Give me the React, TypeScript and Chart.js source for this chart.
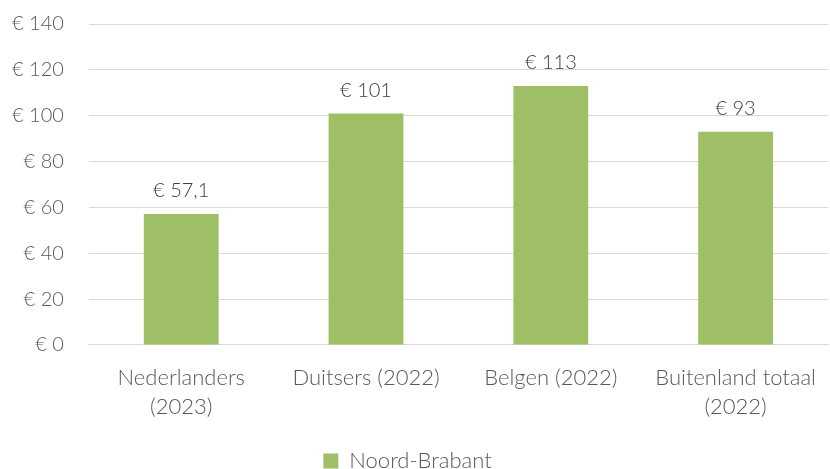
import React, { useEffect, useRef } from "react";
import { Chart, registerables } from "chart.js";

Chart.register(...registerables);

const categories: (string | string[])[] = [
  ["Nederlanders", "(2023)"],
  "Duitsers (2022)",
  "Belgen (2022)",
  ["Buitenland totaal", "(2022)"],
];
const values = [57.1, 101, 113, 93];
const valueLabels = ["€ 57,1", "€ 101", "€ 113", "€ 93"];
const seriesName = "Noord-Brabant";

const FONT = "Lato";
const TEXT = "#595959";

const dataLabelPlugin = {
  id: "dataLabels",
  afterDatasetsDraw(chart: any) {
    const ctx = chart.ctx;
    const meta = chart.getDatasetMeta(0);
    ctx.save();
    ctx.font = `300 20px ${FONT}`;
    ctx.fillStyle = "#404040";
    ctx.textAlign = "center";
    ctx.textBaseline = "bottom";
    meta.data.forEach((bar: any, i: number) => {
      ctx.fillText(valueLabels[i], bar.x, bar.y - 13);
    });
    ctx.restore();
  },
};

export default function App() {
  const ref = useRef<HTMLCanvasElement>(null);
  useEffect(() => {
    document.body.style.margin = "0";
    document.body.style.overflow = "hidden";
    const chart = new Chart(ref.current!, {
      type: "bar",
      data: {
        labels: categories,
        datasets: [
          {
            label: seriesName,
            data: values,
            backgroundColor: "#9FBF67",
            barPercentage: 0.405,
            categoryPercentage: 1,
          },
        ],
      },
      options: {
        animation: false,
        responsive: false,
        maintainAspectRatio: false,
        layout: { padding: { left: -13, right: 2, top: 0, bottom: -13 } },
        scales: {
          x: {
            grid: { display: false },
            border: { color: "#D9D9D9", width: 1 },
            ticks: {
              color: TEXT,
              font: { family: FONT, size: 22, weight: "300" as any, lineHeight: 1.32 },
              padding: 10,
              maxRotation: 0,
            },
          },
          y: {
            min: 0,
            max: 140,
            ticks: {
              stepSize: 20,
              color: TEXT,
              padding: 25,
              font: { family: FONT, size: 20, weight: "300" as any },
              callback: (v: any) => `€ ${v}`,
            },
            grid: { color: "#D9D9D9", lineWidth: 1, drawTicks: false },
            border: { display: false },
          },
        },
        plugins: {
          legend: {
            position: "bottom",
            labels: {
              color: TEXT,
              font: { family: FONT, size: 22, weight: "300" as any },
              boxWidth: 15,
              boxHeight: 15,
              padding: 19,
            },
          },
          tooltip: { enabled: false },
        },
      },
      plugins: [dataLabelPlugin],
    });
    return () => chart.destroy();
  }, []);
  return (
    <div style={{ width: 830, height: 469, overflow: "hidden" }}>
      <canvas ref={ref} width={830} height={482} style={{ display: "block", marginTop: -13 }} />
    </div>
  );
}
